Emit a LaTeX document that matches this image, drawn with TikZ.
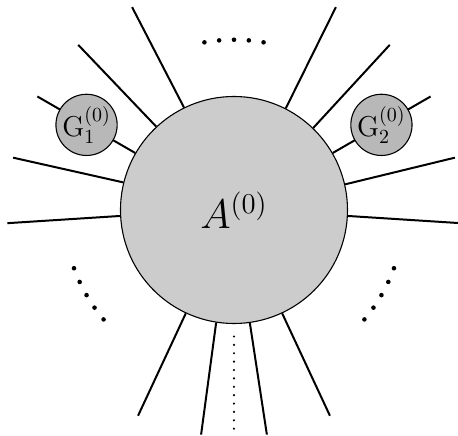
\documentclass[tikz,border=0pt]{standalone}
\usepackage{amsmath,amssymb,xcolor}
\definecolor{ampgray}{RGB}{204,204,204}
\definecolor{blobgray}{RGB}{184,184,184}
\usepackage{tikz}

\begin{document}
\begin{tikzpicture}[
  leg/.style={line width=1pt},
  ampblob/.style={circle,draw,line width=0.55pt,inner sep=0pt,align=center},
  dotleg/.style={line width=1.2pt,line cap=round,dash pattern=on 0pt off 4.2pt}
]
  \useasboundingbox (-4.123,-3.965) rectangle (3.947,3.700);
  % Central blob
  \node[ampblob,fill=ampgray,minimum size=4cm,font=\huge] (amp) at (0,0) {$A^{(0)}$};
  % Free ends of the legs
  \coordinate (eR1) at (-3.33:4cm);
  \coordinate (eR2) at (13.33:4cm);
  \coordinate (eR3) at (30:4cm);
  \coordinate (eR4) at (46.67:4cm);
  \coordinate (eR5) at (63.33:4cm);
  \coordinate (eL1) at (116.67:4cm);
  \coordinate (eL2) at (133.33:4cm);
  \coordinate (eL3) at (150:4cm);
  \coordinate (eL4) at (166.67:4cm);
  \coordinate (eL5) at (183.33:4cm);
  \coordinate (eB1) at (245:4cm);
  \coordinate (eB2) at (261.67:4cm);
  \coordinate (eB3) at (278.33:4cm);
  \coordinate (eB4) at (295:4cm);
  \coordinate (eB0) at (270:3.88cm);
  % Right legs
  \draw[leg] (amp.-3.33) -- (eR1);
  \draw[leg] (amp.13.33) -- (eR2);
  \draw[leg] (amp.30) -- (eR3);
  \draw[leg] (amp.46.67) -- (eR4);
  \draw[leg] (amp.63.33) -- (eR5);
  % Left legs
  \draw[leg] (amp.116.67) -- (eL1);
  \draw[leg] (amp.133.33) -- (eL2);
  \draw[leg] (amp.150) -- (eL3);
  \draw[leg] (amp.166.67) -- (eL4);
  \draw[leg] (amp.183.33) -- (eL5);
  % Bottom legs
  \draw[leg] (amp.245) -- (eB1);
  \draw[leg] (amp.261.67) -- (eB2);
  \draw[leg] (amp.278.33) -- (eB3);
  \draw[leg] (amp.295) -- (eB4);
  \draw[dotleg,shorten <=2.2mm] (amp.south) -- (eB0);
  % Small blobs on two of the legs
  \node[ampblob,fill=blobgray,minimum size=1.06cm,font=\Large] (g1) at (150:3cm) {$\mathrm{G}_1^{(0)}$};
  \node[ampblob,fill=blobgray,minimum size=1.06cm,font=\Large] (g2) at (30:3cm) {$\mathrm{G}_2^{(0)}$};
  % Dots for the omitted legs
  \foreach \a in {80,85,...,100,200,205,...,220,320,325,...,340}
    \fill (\a:3cm) circle (1.15pt);
\end{tikzpicture}
\end{document}
